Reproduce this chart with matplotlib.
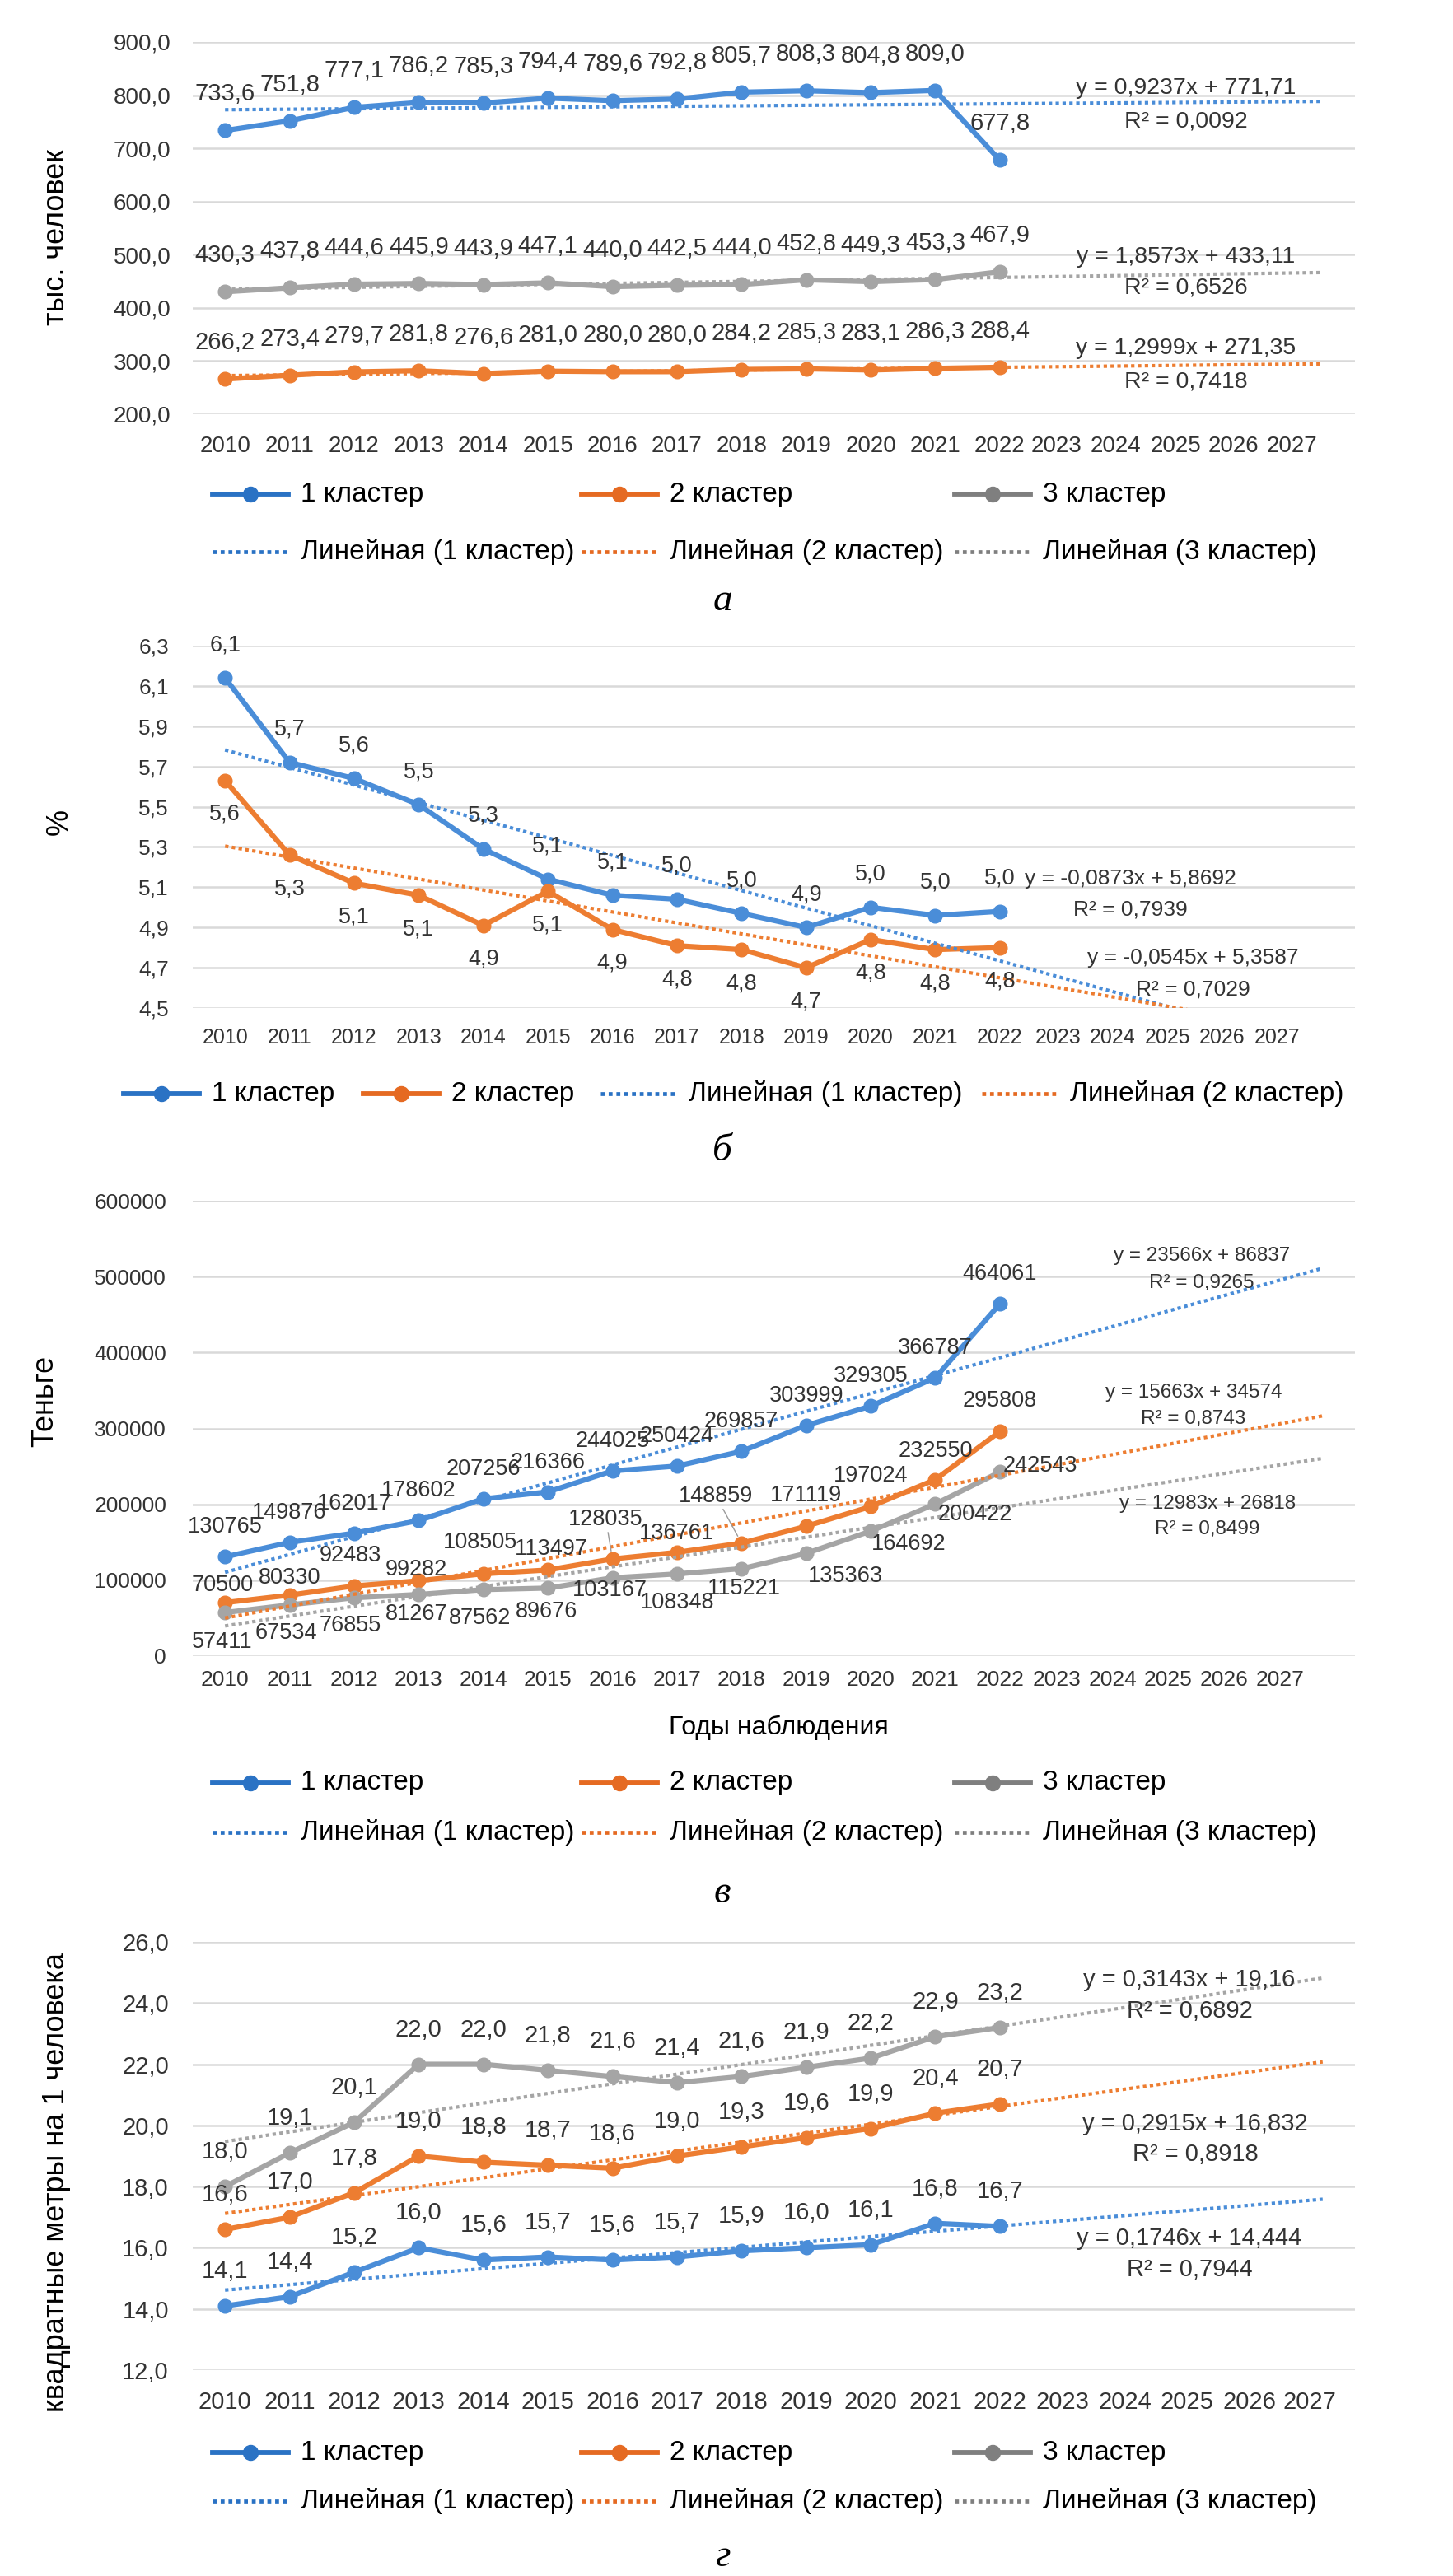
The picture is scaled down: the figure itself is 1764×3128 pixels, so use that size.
import numpy as np
import matplotlib
matplotlib.use("Agg")
import matplotlib.pyplot as plt
from matplotlib.lines import Line2D
from matplotlib.ticker import FuncFormatter

plt.rcParams["font.family"] = ["Liberation Sans", "DejaVu Sans"]

W, H = 1764, 3128

YEARS = list(range(2010, 2028))

# а — численность, тыс. человек
POP_C1 = [733.6, 751.8, 777.1, 786.2, 785.3, 794.4, 789.6, 792.8, 805.7, 808.3, 804.8, 809.0, 677.8]
POP_C2 = [266.2, 273.4, 279.7, 281.8, 276.6, 281.0, 280.0, 280.0, 284.2, 285.3, 283.1, 286.3, 288.4]
POP_C3 = [430.3, 437.8, 444.6, 445.9, 443.9, 447.1, 440.0, 442.5, 444.0, 452.8, 449.3, 453.3, 467.9]
POP_K = [0.9237, 1.2999, 1.8573]
POP_B = [771.71, 271.35, 433.11]
POP_EQ = ["y = 0,9237x + 771,71", "y = 1,2999x + 271,35", "y = 1,8573x + 433,11"]
POP_R2 = ["R² = 0,0092", "R² = 0,7418", "R² = 0,6526"]

# б — %
PCT_C1 = [6.14, 5.72, 5.64, 5.51, 5.29, 5.14, 5.06, 5.04, 4.97, 4.90, 5.00, 4.96, 4.98]
PCT_C2 = [5.63, 5.26, 5.12, 5.06, 4.91, 5.08, 4.89, 4.81, 4.79, 4.70, 4.84, 4.79, 4.80]
PCT_K = [-0.0873, -0.0545]
PCT_B = [5.8692, 5.3587]
PCT_EQ = ["y = -0,0873x + 5,8692", "y = -0,0545x + 5,3587"]
PCT_R2 = ["R² = 0,7939", "R² = 0,7029"]

# в — теньге
INC_C1 = [130765, 149876, 162017, 178602, 207256, 216366, 244025, 250424, 269857, 303999, 329305, 366787, 464061]
INC_C2 = [70500, 80330, 92483, 99282, 108505, 113497, 128035, 136761, 148859, 171119, 197024, 232550, 295808]
INC_C3 = [57411, 67534, 76855, 81267, 87562, 89676, 103167, 108348, 115221, 135363, 164692, 200422, 242543]
INC_K = [23566, 15663, 12983]
INC_B = [86837, 34574, 26818]
INC_EQ = ["y = 23566x + 86837", "y = 15663x + 34574", "y = 12983x + 26818"]
INC_R2 = ["R² = 0,9265", "R² = 0,8743", "R² = 0,8499"]

# г — квадратные метры на 1 человека
HOU_C1 = [14.1, 14.4, 15.2, 16.0, 15.6, 15.7, 15.6, 15.7, 15.9, 16.0, 16.1, 16.8, 16.7]
HOU_C2 = [16.6, 17.0, 17.8, 19.0, 18.8, 18.7, 18.6, 19.0, 19.3, 19.6, 19.9, 20.4, 20.7]
HOU_C3 = [18.0, 19.1, 20.1, 22.0, 22.0, 21.8, 21.6, 21.4, 21.6, 21.9, 22.2, 22.9, 23.2]
HOU_K = [0.1746, 0.2915, 0.3143]
HOU_B = [14.444, 16.832, 19.16]
HOU_EQ = ["y = 0,1746x + 14,444", "y = 0,2915x + 16,832", "y = 0,3143x + 19,16"]
HOU_R2 = ["R² = 0,7944", "R² = 0,8918", "R² = 0,6892"]

NAMES = ["1 кластер", "2 кластер", "3 кластер"]
TREND_NAMES = ["Линейная (1 кластер)", "Линейная (2 кластер)", "Линейная (3 кластер)"]

BLUE, ORANGE, GRAY = "#4a8dd8", "#ed7d31", "#a5a5a5"
LEG = ["#2a72c4", "#e56a22", "#7f7f7f"]
COLORS = [BLUE, ORANGE, GRAY]
TXT = "#333333"

# положение подписей прогнозных лет на оси (у каждой панели своё)
FC_A = [12.88, 13.80, 14.72, 15.62, 16.52]
FC_B = [12.90, 13.74, 14.60, 15.44, 16.29]
FC_V = [12.88, 13.75, 14.61, 15.47, 16.34]
FC_G = [12.97, 13.94, 14.90, 15.87, 16.80]

# смещения подписей (пиксели) для панели в
OFF_V2 = [(-3, 21), (0, 21), (-5, 37), (-3, 13), (-4, 38), (4, 25), (-8, 48),
          (0, 23), (-31, 57), (0, 37), (0, 37), (0, 35), (0, 37)]
OFF_V3 = [(-3, -36), (-4, -34), (-5, -34), (-3, -24), (-4, -35), (-2, -29), (-3, -15),
          (0, -35), (3, -24), (48, -28), (46, -16), (48, -13), (49, 7)]


def comma1(v, pos=None):
    return f"{v:.1f}".replace(".", ",")


def intfmt(v, pos=None):
    return f"{v:.0f}"


def fx(x):
    return x / W


def fy(y):
    return 1 - y / H


def make_axes(fig, top, bottom):
    return fig.add_axes([fx(234), fy(bottom), (1645 - 234) / W, (bottom - top) / H])


def setup(ax, lo, hi, step, fmt, ysize, xsize, ypad, xpad, fc_pos):
    ax.set_xlim(-0.5, 17.5)
    ax.set_ylim(lo, hi)
    ax.set_yticks(np.arange(lo, hi + step / 2, step))
    ax.yaxis.set_major_formatter(FuncFormatter(fmt))
    ax.set_xticks(list(range(13)) + fc_pos)
    ax.set_xticklabels([str(y) for y in YEARS])
    ax.grid(axis="y", color="#d9d9d9", lw=1.8)
    ax.set_axisbelow(True)
    for s in ax.spines.values():
        s.set_visible(False)
    ax.tick_params(axis="y", length=0, labelsize=ysize, colors=TXT, pad=ypad)
    ax.tick_params(axis="x", length=0, labelsize=xsize, colors=TXT, pad=xpad)


def series(ax, vals, color, fs, fmt, dy=0, offsets=None, leaders=()):
    x = np.arange(len(vals))
    ax.plot(x, vals, color=color, lw=4.5, marker="o", ms=12, zorder=3,
            solid_joinstyle="round")
    for i, v in enumerate(vals):
        off = offsets[i] if offsets else (0, dy)
        kw = {}
        if i in leaders:
            kw["arrowprops"] = dict(arrowstyle="-", color="#9a9a9a", lw=1, shrinkA=0, shrinkB=7)
        ax.annotate(fmt(v), (i, v), xytext=off, textcoords="offset pixels",
                    ha="center", va="center", fontsize=fs, color=TXT, zorder=6, **kw)


def trend(ax, k, b, color):
    x = np.array([0, 17])
    ax.plot(x, k * (x + 1) + b, color=color, lw=3, ls=(0, (1, 1)), zorder=4)


def equation(fig, x, y1, y2, eq, r2, fs):
    fig.text(fx(x), fy(y1), eq, ha="center", va="center", fontsize=fs, color=TXT)
    fig.text(fx(x), fy(y2), r2, ha="center", va="center", fontsize=fs, color=TXT)


def legend_item(fig, x, y, color, text, trend_style=False):
    xs = [fx(x), fx(x + 46), fx(x + 92)]
    ys = [fy(y)] * 3
    if trend_style:
        fig.add_artist(Line2D(xs, ys, color=color, lw=3.4, ls=(0, (1, 1)),
                              transform=fig.transFigure))
    else:
        fig.add_artist(Line2D(xs, ys, color=color, lw=4.2, marker="o", ms=13,
                              markevery=[1], transform=fig.transFigure))
    fig.text(fx(x + 107), fy(y), text, ha="left", va="center", fontsize=24, color="black")


def legend3(fig, y1, y2):
    for i, hx in enumerate([258, 706, 1159]):
        legend_item(fig, hx, y1, LEG[i], NAMES[i])
        legend_item(fig, hx, y2, LEG[i], TREND_NAMES[i], trend_style=True)


def ylabel(fig, x, y, text):
    fig.text(fx(x), fy(y), text, rotation=90, ha="center", va="center", fontsize=26)


def letter(fig, y, text):
    fig.text(fx(877), fy(y), text, ha="center", va="center", fontsize=34,
             family="Liberation Serif", style="italic")


fig = plt.figure(figsize=(W / 100, H / 100), dpi=100)

# ---- а ----
ax = make_axes(fig, 51, 503)
setup(ax, 200, 900, 100, comma1, 20, 20, 19, 19, FC_A)
for vals, c in zip([POP_C1, POP_C2, POP_C3], COLORS):
    series(ax, vals, c, 21, comma1, dy=44)
for k, b, c in zip(POP_K, POP_B, COLORS):
    trend(ax, k, b, c)
equation(fig, 1440, 107, 147, POP_EQ[0], POP_R2[0], 20.5)
equation(fig, 1440, 312, 350, POP_EQ[2], POP_R2[2], 20.5)
equation(fig, 1440, 423, 463, POP_EQ[1], POP_R2[1], 20.5)
ylabel(fig, 69, 288, "тыс. человек")
legend3(fig, 600, 670)
letter(fig, 730, "а")

# ---- б ----
ax = make_axes(fig, 784, 1224)
setup(ax, 4.5, 6.3, 0.2, comma1, 19, 18, 21, 17, FC_B)
series(ax, PCT_C1, BLUE, 19.5, comma1, dy=40)
series(ax, PCT_C2, ORANGE, 19.5, comma1, dy=-41)
trend(ax, PCT_K[0], PCT_B[0], BLUE)
trend(ax, PCT_K[1], PCT_B[1], ORANGE)
equation(fig, 1372, 1067, 1104, PCT_EQ[0], PCT_R2[0], 19)
equation(fig, 1448, 1163, 1202, PCT_EQ[1], PCT_R2[1], 19)
ylabel(fig, 72, 998, "%")
legend_item(fig, 150, 1328, LEG[0], NAMES[0])
legend_item(fig, 441, 1328, LEG[1], NAMES[1])
legend_item(fig, 729, 1328, LEG[0], TREND_NAMES[0], trend_style=True)
legend_item(fig, 1192, 1328, LEG[1], TREND_NAMES[1], trend_style=True)
letter(fig, 1398, "б")

# ---- в ----
ax = make_axes(fig, 1458, 2011)
setup(ax, 0, 600000, 100000, intfmt, 19, 19, 23, 12, FC_V)
series(ax, INC_C1, BLUE, 19.5, intfmt, dy=36)
series(ax, INC_C2, ORANGE, 19.5, intfmt, offsets=OFF_V2, leaders=(6, 8))
series(ax, INC_C3, GRAY, 19.5, intfmt, offsets=OFF_V3)
for k, b, c in zip(INC_K, INC_B, COLORS):
    trend(ax, k, b, c)
equation(fig, 1459, 1525, 1558, INC_EQ[0], INC_R2[0], 17.5)
equation(fig, 1449, 1691, 1723, INC_EQ[1], INC_R2[1], 17.5)
equation(fig, 1466, 1826, 1857, INC_EQ[2], INC_R2[2], 17.5)
ylabel(fig, 55, 1701, "Теньге")
fig.text(fx(945), fy(2098), "Годы наблюдения", ha="center", va="center", fontsize=23)
legend3(fig, 2165, 2225)
letter(fig, 2299, "в")

# ---- г ----
ax = make_axes(fig, 2358, 2878)
setup(ax, 12, 26, 2, comma1, 21, 21, 21, 18, FC_G)
for vals, c in zip([HOU_C1, HOU_C2, HOU_C3], COLORS):
    series(ax, vals, c, 21, comma1, dy=42)
for k, b, c in zip(HOU_K, HOU_B, COLORS):
    trend(ax, k, b, c)
equation(fig, 1444, 2404, 2442, HOU_EQ[2], HOU_R2[2], 21)
equation(fig, 1451, 2579, 2616, HOU_EQ[1], HOU_R2[1], 21)
equation(fig, 1444, 2718, 2756, HOU_EQ[0], HOU_R2[0], 21)
ylabel(fig, 69, 2650, "квадратные метры на 1 человека")
legend3(fig, 2978, 3037)
letter(fig, 3105, "г")

fig.savefig("out.png", dpi=100, facecolor="white")
